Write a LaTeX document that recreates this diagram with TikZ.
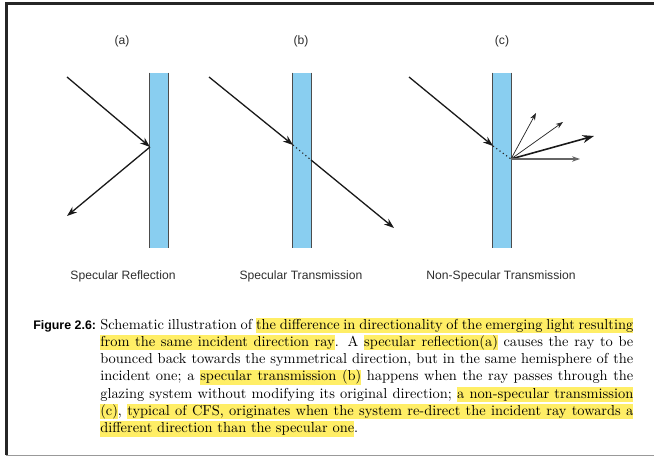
\documentclass[tikz,border=0pt]{standalone}
\usepackage{fontspec}
\newfontfamily\labelfont{Liberation Sans}
\usepackage{xcolor}
\usetikzlibrary{arrows.meta}
\definecolor{glass}{RGB}{137,206,240}
\definecolor{hlyellow}{RGB}{255,238,102}
\definecolor{labelgray}{RGB}{45,45,45}

% word-by-word highlighting: a yellow rule behind each word, stretchable yellow glue between words
\newsavebox\hlbox
\newcommand\hlw[1]{\sbox\hlbox{#1}\rlap{\color{hlyellow}\vrule height 7.9pt depth 2.5pt width \wd\hlbox}\usebox\hlbox}
\newcommand\hlsp{{\color{hlyellow}\leaders\vrule height 7.9pt depth 2.5pt\hskip\fontdimen2\font plus\fontdimen3\font minus\fontdimen4\font}}
\let\hlend\relax
\def\hlphrase#1{\hlloop#1 \hlend}
\def\hlloop#1 #2\hlend{\hlw{#1}\ifx\relax#2\relax\else\hlsp\hlloop#2\hlend\fi}

\tikzset{
  glassbar/.style={fill=glass, draw=none, minimum width=12.5pt, minimum height=121.3pt, inner sep=0pt},
  baredge/.style={draw=black!70, line width=0.5pt},
  mainray/.style={draw=black!90, line width=0.9pt, -{Stealth[length=7pt,width=5pt]}},
  insideray/.style={draw=black!85, line width=0.8pt, dotted},
  thinray/.style={draw=black!85, line width=0.5pt, -{Stealth[length=5pt,width=3.6pt]}},
  boldray/.style={draw=black!90, line width=1.1pt, -{Stealth[length=8pt,width=5.6pt]}},
  flatray/.style={draw=black!60, line width=0.75pt, -{Stealth[length=5.5pt,width=3.8pt]}},
  panellabel/.style={font=\labelfont\fontsize{8.4pt}{10pt}\selectfont, text=labelgray, inner sep=0pt},
}

\begin{document}
\begin{tikzpicture}[x=0.693pt, y=-0.693pt]
\useasboundingbox (0,0) rectangle (654,457);

% page frame
\draw[line width=1.4pt, black!85] (6.5,455) -- (6.5,3.5) -- (660,3.5);
\draw[line width=0.8pt, black!40] (6,455.5) -- (660,455.5);

% panel titles
\node[panellabel] (ta) at (122,41) {(a)};
\node[panellabel] (tb) at (301,41) {(b)};
\node[panellabel] (tc) at (502,41) {(c)};

% glazing layers
\node[glassbar] (barA) at (159,160.5) {};
\node[glassbar] (barB) at (302,160.5) {};
\node[glassbar] (barC) at (502,160.5) {};
\foreach \b in {barA,barB,barC}{
  \draw[baredge] (\b.north west) -- (\b.south west);
  \draw[baredge] (\b.north east) -- (\b.south east);
}

% (a) specular reflection
\coordinate (srcA) at (67,77);
\coordinate (hitA) at (150,147);
\coordinate (outA) at (67,216);
\draw[mainray] (srcA) -- (hitA);
\draw[mainray] (hitA) -- (outA);

% (b) specular transmission
\coordinate (srcB) at (209,77);
\coordinate (inB) at (293,145);
\coordinate (exB) at (311,160);
\coordinate (outB) at (394,228);
\draw[mainray] (srcB) -- (inB);
\draw[insideray] (inB) -- (exB);
\draw[mainray] (exB) -- (outB);

% (c) non-specular transmission
\coordinate (srcC) at (409,77);
\coordinate (inC) at (493,146);
\coordinate (exC) at (511,159);
\coordinate (outC1) at (536,113);
\coordinate (outC2) at (563,122);
\coordinate (outC3) at (594,136);
\coordinate (outC4) at (580,159);
\draw[mainray] (srcC) -- (inC);
\draw[insideray] (inC) -- (exC);
\draw[thinray] (exC) -- (outC1);
\draw[thinray] (exC) -- (outC2);
\draw[boldray] (exC) -- (outC3);
\draw[flatray] (exC) -- (outC4);

% panel captions
\node[panellabel] (la) at (123,276) {Specular Reflection};
\node[panellabel] (lb) at (301,276) {Specular Transmission};
\node[panellabel] (lc) at (501,276) {Non-Specular Transmission};

% figure caption
\node[anchor=base west, inner sep=0pt, font=\labelfont\bfseries\fontsize{8.6pt}{10pt}\selectfont] (fig) at (33,329) {Figure 2.6:};
\node[anchor=base west, inner sep=0pt] (captext) at (100,329) {\parbox[t]{369.4pt}{\tolerance=10000
Schematic illustration of \hlphrase{the difference in directionality of the emerging light resulting}\linebreak
\hlphrase{from the same incident direction ray}. A \hlphrase{specular reflection(a)} causes the ray to be\linebreak
bounced back towards the symmetrical direction, but in the same hemisphere of the\linebreak
incident one; a \hlphrase{specular transmission (b)} happens when the ray passes through the\linebreak
glazing system without modifying its original direction; \hlphrase{a non-specular transmission}\linebreak
\hlphrase{(c)}, \hlphrase{typical of CFS, originates when the system re-direct the incident ray towards a}\linebreak
\hlphrase{different direction than the specular one}.}};
\end{tikzpicture}
\end{document}
